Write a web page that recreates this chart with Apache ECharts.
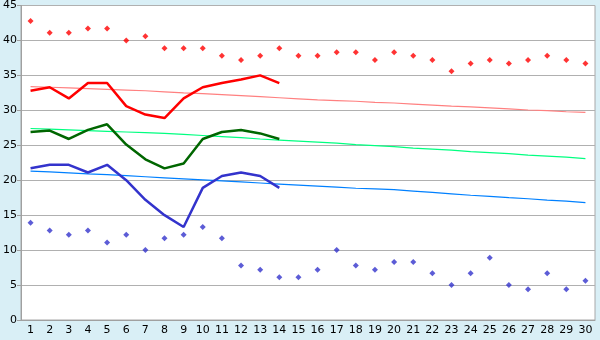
<!DOCTYPE html>
<html>
<head>
<meta charset="utf-8">
<script src="https://cdn.jsdelivr.net/npm/echarts@6/dist/echarts.min.js"></script>
<style>html,body{margin:0;padding:0;background:#d9eff6;}#c{width:600px;height:340px;}</style>
</head>
<body>
<div id="c"></div>
<script>
var days = ['1','2','3','4','5','6','7','8','9','10','11','12','13','14','15','16','17','18','19','20','21','22','23','24','25','26','27','28','29','30'];
var yTicks = [0,5,10,15,20,25,30,35,40,45];
var recordHigh = [42.8,41.1,41.1,41.7,41.7,40.0,40.6,38.9,38.9,38.9,37.8,37.2,37.8,38.9,37.8,37.8,38.3,38.3,37.2,38.3,37.8,37.2,35.6,36.7,37.2,36.7,37.2,37.8,37.2,36.7];
var recordLow = [13.9,12.8,12.2,12.8,11.1,12.2,10.0,11.7,12.2,13.3,11.7,7.8,7.2,6.1,6.1,7.2,10.0,7.8,7.2,8.3,8.3,6.7,5.0,6.7,8.9,5.0,4.4,6.7,4.4,5.6];
var actualHigh = [32.8,33.3,31.7,33.9,33.9,30.6,29.4,28.9,31.7,33.3,33.9,34.4,35.0,33.9];
var actualMean = [26.9,27.1,25.9,27.2,28.0,25.1,23.0,21.7,22.4,25.9,26.9,27.2,26.7,25.9];
var actualLow = [21.7,22.2,22.2,21.1,22.2,20.0,17.2,15.0,13.3,18.9,20.6,21.1,20.6,18.9];
var normalHigh = [33.4,33.3,33.2,33.1,33.0,32.9,32.8,32.65,32.5,32.4,32.25,32.1,31.95,31.8,31.65,31.5,31.4,31.3,31.15,31.05,30.9,30.75,30.6,30.5,30.35,30.2,30.05,29.95,29.8,29.7];
var normalMean = [27.4,27.3,27.2,27.1,27.0,26.9,26.8,26.7,26.55,26.4,26.25,26.1,25.9,25.75,25.6,25.45,25.3,25.1,24.95,24.8,24.6,24.45,24.3,24.1,23.95,23.8,23.6,23.45,23.3,23.1];
var normalLow = [21.3,21.2,21.05,20.9,20.8,20.65,20.5,20.35,20.2,20.05,19.9,19.75,19.6,19.45,19.3,19.15,19.0,18.85,18.75,18.65,18.45,18.25,18.05,17.85,17.7,17.5,17.35,17.15,17.0,16.8];

var chart = echarts.init(document.getElementById('c'), null, {renderer:'canvas'});
function line(data, color, width, z){
  return {type:'line', data:data, symbol:'none', smooth:false, z:z,
    lineStyle:{color:color, width:width}, animation:false, silent:true};
}
function dots(data, color){
  return {type:'scatter', data:data, symbol:'diamond', symbolSize:6, z:10,
    itemStyle:{color:color}, animation:false, silent:true};
}
chart.setOption({
  backgroundColor:'#d9eff6',
  animation:false,
  grid:{left:20, right:5, top:5, bottom:20, containLabel:false, show:true,
    backgroundColor:'#ffffff', borderColor:'#a8a8a8', borderWidth:1},
  xAxis:{type:'category', data:days, boundaryGap:true,
    axisLine:{lineStyle:{color:'#a0a0a0', width:1}},
    axisTick:{alignWithLabel:true, length:5, lineStyle:{color:'#606060'}},
    axisLabel:{color:'#000', fontFamily:'DejaVu Sans', fontSize:11, margin:5, interval:0},
    splitLine:{show:false}},
  yAxis:{type:'value', min:yTicks[0], max:yTicks[yTicks.length-1], interval:5,
    axisLine:{show:true, lineStyle:{color:'#a0a0a0', width:1}},
    axisTick:{show:true, length:4, lineStyle:{color:'#a0a0a0'}},
    axisLabel:{color:'#000', fontFamily:'DejaVu Sans', fontSize:11, margin:4},
    splitLine:{show:true, lineStyle:{color:'#b0b0b0', width:1}}},
  series:[
    line(normalHigh, '#ff8080', 1.2, 2),
    line(normalMean, '#00ff80', 1.2, 2),
    line(normalLow, '#0080ff', 1.2, 2),
    line(actualHigh, '#ff0000', 2.5, 5),
    line(actualMean, '#006600', 2.5, 5),
    line(actualLow, '#3333cc', 2.5, 5),
    dots(recordHigh, '#ff0000'),
    dots(recordLow, '#3333cc')
  ]
});
</script>
</body>
</html>
